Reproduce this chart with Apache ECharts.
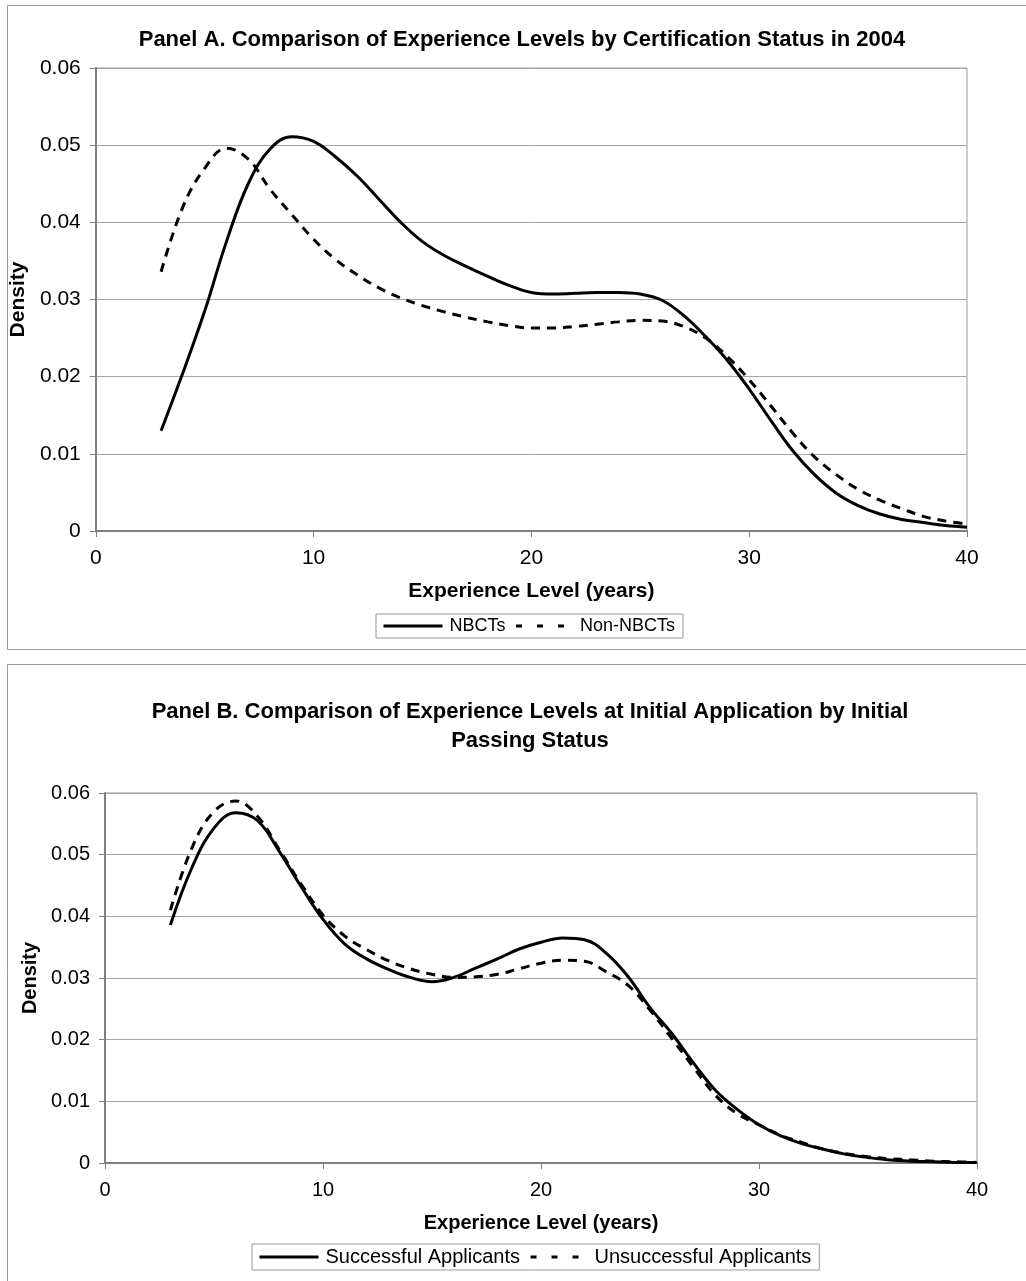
<!DOCTYPE html>
<html>
<head>
<meta charset="utf-8">
<script src="https://cdn.jsdelivr.net/npm/echarts@6/dist/echarts.min.js"></script>
<style>
  html, body { margin: 0; padding: 0; background: #fff; }
  #chart { width: 1026px; height: 1281px; }
</style>
</head>
<body>
<div id="chart"></div>
<script>
// experience level in years, 3..40
var years = [];
for (var y = 3; y <= 40; y++) years.push(y);

// Panel A densities
var nbct = [0.013, 0.0205, 0.0285, 0.0375, 0.045, 0.0495, 0.0511, 0.0505,
  0.0485, 0.046, 0.043, 0.0400, 0.0375, 0.0357, 0.0343, 0.033, 0.0318, 0.0309,
  0.0307, 0.0308, 0.0309, 0.0309, 0.0307, 0.0299, 0.0279, 0.0252, 0.0221, 0.0184,
  0.0143, 0.0104, 0.0073, 0.0049, 0.0033, 0.0022, 0.0015, 0.0011, 0.0007, 0.0005];
var nonNbct = [0.0336, 0.042, 0.047, 0.0496, 0.0482, 0.0443, 0.041, 0.0378,
  0.0352, 0.0332, 0.0315, 0.0302, 0.0292, 0.0284, 0.0277, 0.0271, 0.0266, 0.0263,
  0.0263, 0.0265, 0.0268, 0.0271, 0.0273, 0.0272, 0.0265, 0.025, 0.0226, 0.0196,
  0.0162, 0.0127, 0.0096, 0.0073, 0.0054, 0.004, 0.0029, 0.0019, 0.0013, 0.0009];

// Panel B densities
var successful = [0.0386, 0.048, 0.0543, 0.0568, 0.0555, 0.0505, 0.0448, 0.0395,
  0.0355, 0.0331, 0.0314, 0.0301, 0.0294, 0.0301, 0.0316, 0.0331, 0.0347, 0.0358,
  0.0365, 0.0362, 0.034, 0.0302, 0.0252, 0.021, 0.0162, 0.0118, 0.0087, 0.0062,
  0.0044, 0.0031, 0.0022, 0.0014, 0.0009, 0.0005, 0.0003, 0.0002, 0.0001, 0.0001];
var unsuccessful = [0.041, 0.0512, 0.057, 0.0587, 0.0562, 0.0508, 0.0452, 0.0402,
  0.0368, 0.0346, 0.0328, 0.0315, 0.0306, 0.0301, 0.0302, 0.0306, 0.0315, 0.0324,
  0.0329, 0.0327, 0.031, 0.0288, 0.0248, 0.0202, 0.0155, 0.011, 0.008, 0.0062,
  0.0045, 0.0033, 0.0022, 0.0015, 0.001, 0.0007, 0.0005, 0.0003, 0.0002, 0.0001];

var xTicks = [0, 10, 20, 30, 40];
var yTicks = [0, 0.01, 0.02, 0.03, 0.04, 0.05, 0.06];

var FONT = '"Liberation Sans", Arial, sans-serif';

function pairs(vals) {
  return years.map(function (x, i) { return [x, vals[i]]; });
}

function xAxisCfg(idx, fs) {
  return {
    gridIndex: idx, type: 'value',
    min: xTicks[0], max: xTicks[xTicks.length - 1], interval: 10,
    name: 'Experience Level (years)', nameLocation: 'middle', nameGap: 50,
    nameTextStyle: { fontFamily: FONT, fontWeight: 'bold', fontSize: fs, color: '#000' },
    axisLine: { show: true, lineStyle: { color: '#808080', width: 2 } },
    axisTick: { show: true, length: 6, lineStyle: { color: '#808080' } },
    splitLine: { show: false },
    axisLabel: { fontFamily: FONT, fontSize: fs, color: '#000', margin: 17 }
  };
}

function yAxisCfg(idx, fs) {
  return {
    gridIndex: idx, type: 'value',
    min: yTicks[0], max: yTicks[yTicks.length - 1], interval: 0.01,
    name: 'Density', nameLocation: 'middle', nameGap: 64, nameRotate: 90,
    nameTextStyle: { fontFamily: FONT, fontWeight: 'bold', fontSize: fs, color: '#000' },
    axisLine: { show: true, lineStyle: { color: '#808080', width: 2 } },
    axisTick: { show: true, length: 6, lineStyle: { color: '#808080' } },
    splitLine: { show: true, lineStyle: { color: '#a6a6a6', width: 1 } },
    axisLabel: { fontFamily: FONT, fontSize: fs, color: '#000', margin: 15 }
  };
}

function lineSeries(name, vals, idx, dashed) {
  return {
    name: name, type: 'line', xAxisIndex: idx, yAxisIndex: idx,
    data: pairs(vals), smooth: 0.4, symbol: 'none', showSymbol: false,
    lineStyle: { color: '#000', width: 3, type: dashed ? [9, 7] : 'solid' },
    itemStyle: { color: '#000' }
  };
}

// legend dashes are sparser than the plotted ones
function legendCfg(names, left, top, fs) {
  return {
    data: [
      { name: names[0], lineStyle: { color: '#000', width: 3, type: 'solid' } },
      { name: names[1], lineStyle: { color: '#000', width: 3, type: [6, 15], dashOffset: 19 } }
    ],
    left: left, top: top, orient: 'horizontal',
    itemWidth: 59, itemHeight: 14, itemGap: 7,
    itemStyle: { opacity: 0 },
    borderColor: '#999', borderWidth: 1, padding: [3, 8, 3, 6], selectedMode: false,
    textStyle: { fontFamily: FONT, fontSize: fs, color: '#000', padding: [0, 0, 0, 2] }
  };
}

var chart = echarts.init(document.getElementById('chart'), null, { renderer: 'canvas' });

chart.setOption({
  animation: false,
  backgroundColor: '#fff',
  graphic: [
    { type: 'rect', z: -10, shape: { x: 7.5, y: 5.5, width: 1030, height: 644 },
      style: { fill: 'none', stroke: '#999', lineWidth: 1 } },
    { type: 'rect', z: -10, shape: { x: 7.5, y: 664.5, width: 1030, height: 630 },
      style: { fill: 'none', stroke: '#999', lineWidth: 1 } }
  ],
  title: [
    { text: 'Panel A. Comparison of Experience Levels by Certification Status in 2004',
      left: 517, top: 24, textAlign: 'center',
      textStyle: { fontFamily: FONT, fontWeight: 'bold', fontSize: 22, color: '#000' } },
    { text: 'Panel B. Comparison of Experience Levels at Initial Application by Initial\nPassing Status',
      left: 525, top: 692, textAlign: 'center',
      textStyle: { fontFamily: FONT, fontWeight: 'bold', fontSize: 22, color: '#000', lineHeight: 29, align: 'center' } }
  ],
  legend: [
    legendCfg(['NBCTs', 'Non-NBCTs'], 376, 614, 18),
    legendCfg(['Successful Applicants', 'Unsuccessful Applicants'], 252, 1244, 20)
  ],
  grid: [
    { left: 95, top: 68, width: 872, height: 463, show: true, borderColor: '#999', borderWidth: 1 },
    { left: 105, top: 793, width: 872, height: 370, show: true, borderColor: '#999', borderWidth: 1 }
  ],
  xAxis: [xAxisCfg(0, 21), xAxisCfg(1, 20)],
  yAxis: [yAxisCfg(0, 21), yAxisCfg(1, 20)],
  series: [
    lineSeries('NBCTs', nbct, 0, false),
    lineSeries('Non-NBCTs', nonNbct, 0, true),
    lineSeries('Successful Applicants', successful, 1, false),
    lineSeries('Unsuccessful Applicants', unsuccessful, 1, true)
  ]
});
</script>
</body>
</html>
